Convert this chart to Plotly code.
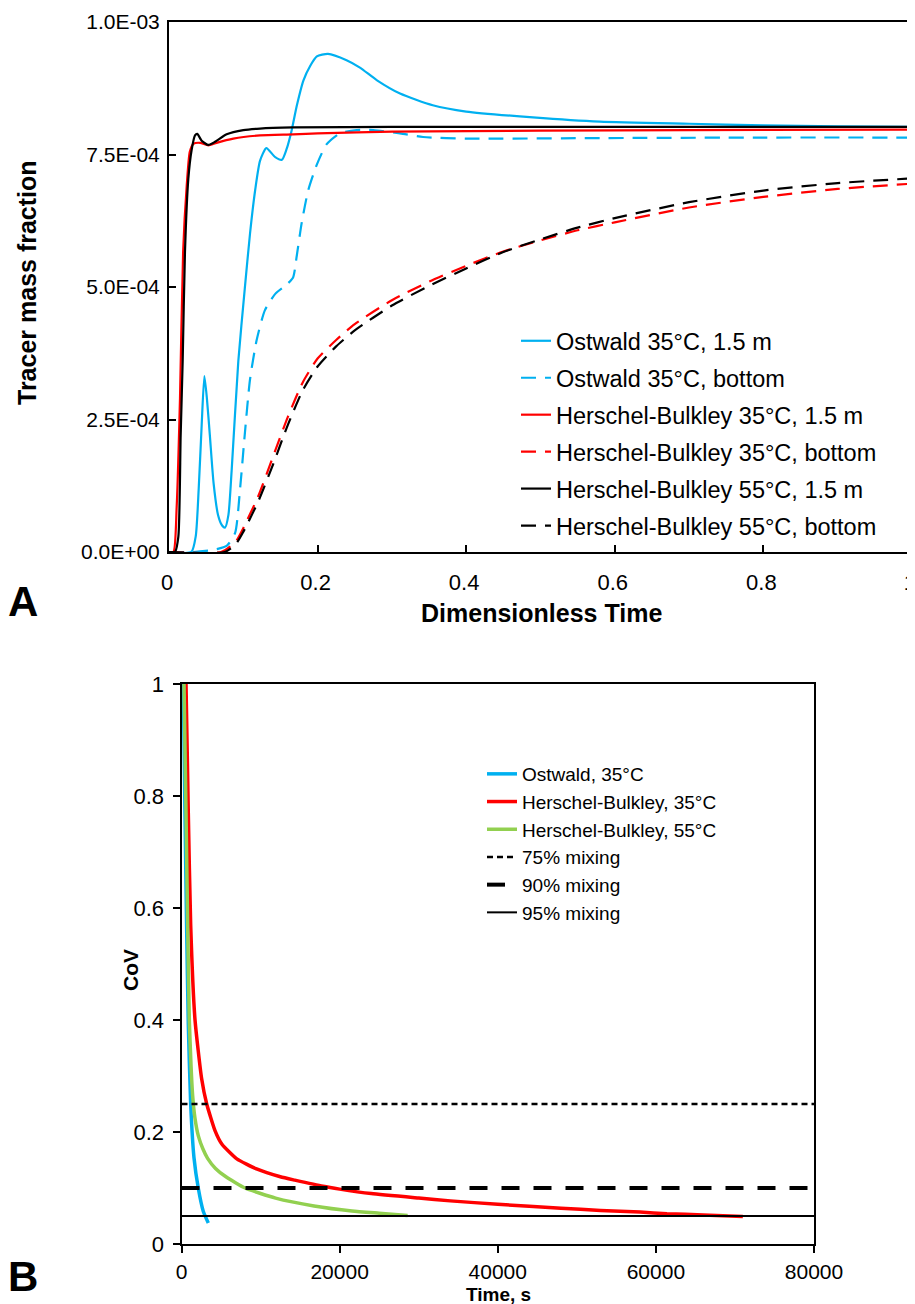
import numpy as np
import plotly.graph_objects as go

# ---- Panel A: tracer mass fraction vs dimensionless time (values in 1e-4) ----
ost_15_t = [0, 0.030, 0.036, 0.040, 0.044, 0.0476, 0.051, 0.055, 0.060, 0.066, 0.0715, 0.0754, 0.080,
            0.0843, 0.0933, 0.102, 0.109, 0.116, 0.1225, 0.131, 0.143, 0.152, 0.158, 0.165, 0.172, 0.181,
            0.190, 0.199, 0.214, 0.239, 0.257, 0.28, 0.311, 0.355, 0.40, 0.49, 0.58, 0.7, 0.8, 0.9, 1.0]
ost_15_v = [0, 0, 0.3, 1.2, 2.4, 3.32, 2.9, 2.2, 1.3, 0.7, 0.5, 0.46, 0.7,
            1.53, 3.6, 4.97, 6.0, 6.83, 7.38, 7.62, 7.45, 7.4, 7.59, 7.95, 8.42, 8.9,
            9.17, 9.35, 9.40, 9.28, 9.14, 8.9, 8.65, 8.43, 8.31, 8.2, 8.12, 8.08, 8.05, 8.03, 8.02]

ost_bot_t = [0, 0.033, 0.06, 0.078, 0.089, 0.0956, 0.102, 0.109, 0.118, 0.129, 0.143, 0.158, 0.167,
             0.172, 0.1786, 0.1875, 0.199, 0.212, 0.230, 0.2526, 0.275, 0.311, 0.342, 0.40, 0.58, 0.8, 1.0]
ost_bot_v = [0, 0, 0.04, 0.12, 0.36, 1.18, 2.22, 3.25, 4.0, 4.56, 4.87, 5.04, 5.18,
             5.59, 6.21, 6.83, 7.31, 7.69, 7.9, 7.96, 7.96, 7.9, 7.83, 7.8, 7.81, 7.82, 7.82]

hb35_15_t = [0, 0.006, 0.0103, 0.0148, 0.019, 0.0238, 0.028, 0.0328, 0.042, 0.053, 0.064, 0.0866,
             0.1225, 0.167, 0.2, 0.3, 0.5, 0.7, 1.0]
hb35_15_v = [0, 0, 0.84, 2.9, 5.66, 6.9, 7.55, 7.7, 7.72, 7.67, 7.72, 7.8,
             7.86, 7.88, 7.9, 7.93, 7.95, 7.96, 7.97]

hb35_bot_t = [0, 0.07, 0.09, 0.1, 0.12, 0.14, 0.16, 0.18, 0.2, 0.225, 0.25, 0.3, 0.35, 0.4, 0.45,
              0.5, 0.55, 0.6, 0.7, 0.8, 0.9, 1.0]
hb35_bot_v = [0, 0, 0.2, 0.45, 1.05, 1.8, 2.55, 3.2, 3.65, 4.0, 4.3, 4.75, 5.1, 5.4, 5.67,
              5.88, 6.07, 6.22, 6.5, 6.7, 6.85, 6.95]

hb55_15_t = [0, 0.008, 0.0126, 0.0157, 0.0184, 0.0215, 0.026, 0.0305, 0.035, 0.038, 0.044, 0.053,
             0.062, 0.0776, 0.1, 0.1225, 0.167, 0.3, 0.6, 1.0]
hb55_15_v = [0, 0, 0.29, 2.2, 3.6, 5.66, 7.04, 7.59, 7.86, 7.89, 7.76, 7.68,
             7.74, 7.88, 7.96, 7.99, 8.01, 8.02, 8.02, 8.02]

hb55_bot_t = [0, 0.075, 0.09, 0.1, 0.12, 0.14, 0.16, 0.18, 0.2, 0.225, 0.25, 0.3, 0.35, 0.4, 0.45,
              0.5, 0.55, 0.6, 0.7, 0.8, 0.9, 1.0]
hb55_bot_v = [0, 0, 0.15, 0.38, 0.95, 1.65, 2.4, 3.05, 3.5, 3.88, 4.18, 4.65, 5.02, 5.35, 5.66,
              5.9, 6.12, 6.3, 6.6, 6.82, 6.96, 7.05]

a_yticks = [0, 2.5e-4, 5.0e-4, 7.5e-4, 1.0e-3]
a_yticktext = ["0.0E+00", "2.5E-04", "5.0E-04", "7.5E-04", "1.0E-03"]

# ---- Panel B: CoV vs time ----
ost_cov_t = [230, 440, 650, 860, 1160, 1580, 2130, 2760, 3390]
ost_cov_v = [1.0, 0.77, 0.564, 0.393, 0.25, 0.154, 0.099, 0.058, 0.0375]

hb35_cov_t = [570, 860, 1160, 1710, 2550, 3190, 4250, 5120, 7000, 9490, 12500, 14330, 17900, 20000,
              24000, 30000, 34000, 40000, 48000, 53000, 58000, 61400, 66000, 71000]
hb35_cov_v = [1.0, 0.77, 0.57, 0.4, 0.295, 0.25, 0.202, 0.178, 0.152, 0.134, 0.12, 0.114, 0.103,
              0.098, 0.09, 0.082, 0.077, 0.071, 0.064, 0.06, 0.057, 0.054, 0.052, 0.049]

hb55_cov_t = [320, 570, 780, 990, 1200, 1410, 1700, 2130, 2700, 3300, 4300, 5620, 8030, 11900,
              16760, 21560, 25000, 28600]
hb55_cov_v = [1.0, 0.77, 0.57, 0.40, 0.32, 0.265, 0.225, 0.193, 0.17, 0.153, 0.135, 0.12, 0.1,
              0.082, 0.068, 0.059, 0.055, 0.051]

mix_t = [0, 80000]
mix75 = [0.25, 0.25]
mix90 = [0.1, 0.1]
mix95 = [0.05, 0.05]

BLUE = "#00B0F0"
RED = "#FF0000"
GREEN = "#92D050"
FONT = "Liberation Sans, Arial, sans-serif"
W, H = 915, 1304
OFF = 8  # page body margin


def fx(px):
    return (px - OFF) / W


def fy(py):
    return 1 - (py - OFF) / H


fig = go.Figure()

top = [
    (ost_15_t, ost_15_v, BLUE, "solid", "Ostwald 35°C, 1.5 m"),
    (ost_bot_t, ost_bot_v, BLUE, "15px,9px", "Ostwald 35°C, bottom"),
    (hb35_15_t, hb35_15_v, RED, "solid", "Herschel-Bulkley 35°C, 1.5 m"),
    (hb35_bot_t, hb35_bot_v, RED, "15px,9px", "Herschel-Bulkley 35°C, bottom"),
    (hb55_15_t, hb55_15_v, "black", "solid", "Herschel-Bulkley 55°C, 1.5 m"),
    (hb55_bot_t, hb55_bot_v, "black", "15px,9px", "Herschel-Bulkley 55°C, bottom"),
]
for i, (t, v, c, d, name) in enumerate(top):
    fig.add_trace(go.Scatter(
        x=t, y=np.array(v) * 1e-4, mode="lines", name=name,
        line=dict(color=c, width=2.2, dash=d, shape="spline", smoothing=0.6),
        xaxis="x", yaxis="y", legend="legend", legendgroup="a%d" % i,
    ))

bottom = [
    (ost_cov_t, ost_cov_v, BLUE, "solid", 3.5, "Ostwald, 35°C"),
    (hb35_cov_t, hb35_cov_v, RED, "solid", 3.5, "Herschel-Bulkley, 35°C"),
    (hb55_cov_t, hb55_cov_v, GREEN, "solid", 3.5, "Herschel-Bulkley, 55°C"),
    (mix_t, mix75, "black", "6px,4px", 2.5, "75% mixing"),
    (mix_t, mix90, "black", "18px,14px", 4, "90% mixing"),
    (mix_t, mix95, "black", "solid", 2, "95% mixing"),
]
for i, (t, v, c, d, w, name) in enumerate(bottom):
    fig.add_trace(go.Scatter(
        x=t, y=v, mode="lines", name=name,
        line=dict(color=c, width=w, dash=d, shape="spline", smoothing=0.5),
        xaxis="x2", yaxis="y2", legend="legend2", legendgroup="b%d" % i,
    ))

axis_common = dict(showline=True, linecolor="black", linewidth=2, mirror=True,
                   showgrid=False, zeroline=False, ticklen=7, tickwidth=1.5, tickcolor="black",
                   automargin=False, ticklabeloverflow="allow")


def px_ann(text, x, y, size, angle=0):
    return dict(text=text, x=fx(x), y=fy(y), xref="paper", yref="paper",
                xanchor="center", yanchor="middle", showarrow=False, textangle=angle,
                borderpad=0, font=dict(family=FONT, size=size, color="black"))


fig.update_layout(
    width=W, height=H,
    margin=dict(l=0, r=0, t=0, b=0, pad=0, autoexpand=False),
    paper_bgcolor="white", plot_bgcolor="white",
    font=dict(family=FONT, color="black"),
    xaxis=dict(domain=[fx(169), fx(912)], range=[0, 1.0001], tickvals=[0, 0.2, 0.4, 0.6, 0.8, 1],
               ticktext=["0", "0.2", "0.4", "0.6", "0.8", "1"], ticks="inside",
               anchor="y", ticklabelstandoff=10, ticklabelshift=-2,
               tickfont=dict(family=FONT, size=22), **axis_common),
    yaxis=dict(domain=[fy(552), fy(22)], range=[0, 1e-3], tickvals=a_yticks,
               ticktext=a_yticktext, ticks="inside", anchor="x", ticklabelstandoff=3,
               tickfont=dict(family=FONT, size=21), **axis_common),
    xaxis2=dict(domain=[fx(181.5), fx(814)], range=[0, 80000], dtick=20000, tickformat="d",
                ticks="outside", anchor="y2", ticklabelstandoff=1,
                tickfont=dict(family=FONT, size=21), **axis_common),
    yaxis2=dict(domain=[fy(1244), fy(684)], range=[0, 1], dtick=0.2,
                ticks="outside", anchor="x2", ticklabelstandoff=4,
                tickfont=dict(family=FONT, size=22), **axis_common),
    legend=dict(x=fx(516), y=fy(319), xanchor="left", yanchor="top",
                bgcolor="rgba(0,0,0,0)", font=dict(family=FONT, size=23.5, color="black"),
                tracegroupgap=3.4, traceorder="grouped"),
    legend2=dict(x=fx(482), y=fy(755), xanchor="left", yanchor="top",
                 bgcolor="rgba(0,0,0,0)", font=dict(family=FONT, size=19, color="black"),
                 tracegroupgap=0, traceorder="grouped"),
    annotations=[
        px_ann("<b>Tracer mass fraction</b>", 27, 283, 25, -90),
        px_ann("<b>Dimensionless Time</b>", 541, 613, 25),
        px_ann("<b>CoV</b>", 130, 970, 21, -90),
        px_ann("<b>Time, s</b>", 498, 1294, 19),
        px_ann("<b>A</b>", 23, 601, 42),
        px_ann("<b>B</b>", 23, 1276, 42),
    ],
)

fig.write_html("out.html")
